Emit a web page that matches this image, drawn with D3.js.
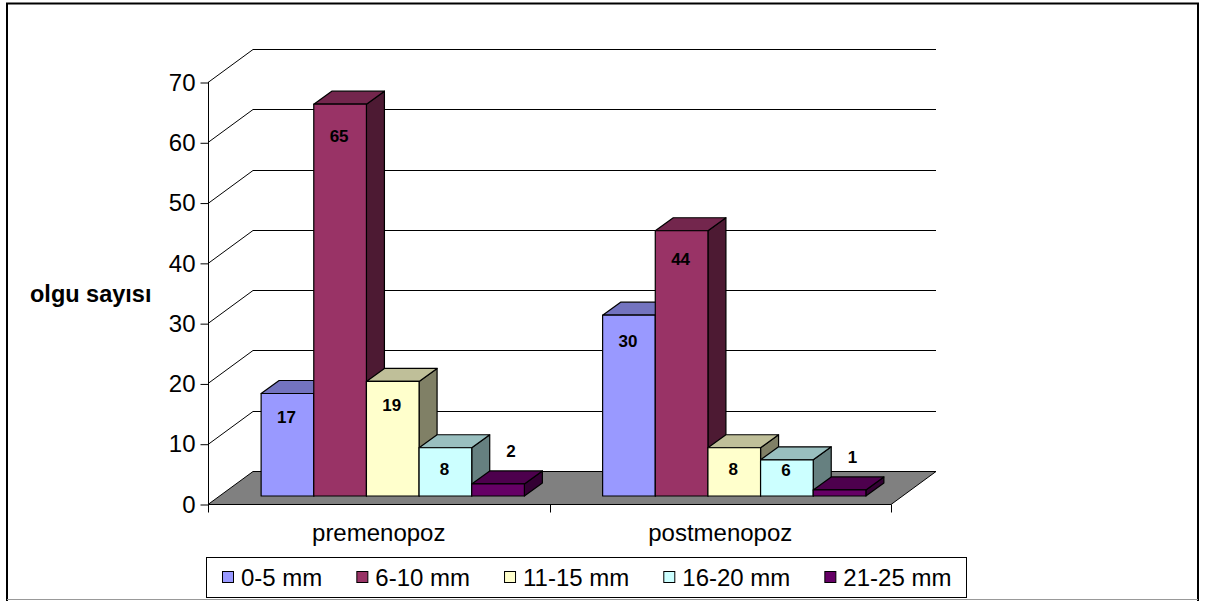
<!DOCTYPE html>
<html>
<head>
<meta charset="utf-8">
<script src="https://cdn.jsdelivr.net/npm/d3@7"></script>
<style>
  body { margin: 0; background: #fff; }
  svg { display: block; font-family: Arial, "Liberation Sans", sans-serif; }
</style>
</head>
<body>
<svg id="chart" width="1213" height="601"></svg>
<script>
// ---- data ----
const categories = ["premenopoz", "postmenopoz"];
const seriesNames = ["0-5 mm", "6-10 mm", "11-15 mm", "16-20 mm", "21-25 mm"];
const premenopoz = [17, 65, 19, 8, 2];
const postmenopoz = [30, 44, 8, 6, 1];
const yTicks = [0, 10, 20, 30, 40, 50, 60, 70];
const seriesColors = ["#9999FF", "#993366", "#FFFFCC", "#CCFFFF", "#660066"];
const yTitle = "olgu sayısı";

const valuesByCategory = { premenopoz, postmenopoz };

// ---- geometry ----
const svg = d3.select("#chart");
const plot = { left: 208, right: 891, floor: 504 };
const wall = { dx: 45, dy: -33 };      // depth of the back wall / floor
const barPlane = { dx: 14, dy: -8 };   // where bar fronts stand on the floor
const barDepth = { dx: 18, dy: -13 };  // thickness of each bar

const y = d3.scaleLinear().domain([0, 70]).range([plot.floor, 82]);
const x0 = d3.scaleBand().domain(categories).range([plot.left, plot.right]);
const x1 = d3.scaleBand().domain(seriesNames)
  .range([0, x0.bandwidth()]).paddingInner(0).paddingOuter(0.743);

const shade = (c, f) => { const r = d3.rgb(c); return d3.rgb(r.r * f, r.g * f, r.b * f).formatHex(); };
const pts = a => a.map(p => p.join(",")).join(" ");

// ---- outer frame ----
const frame = svg.append("g");
frame.append("line").attr("x1", 7).attr("x2", 7).attr("y1", 3).attr("y2", 601).attr("stroke", "#000").attr("stroke-width", 2);
frame.append("line").attr("x1", 1198).attr("x2", 1198).attr("y1", 3).attr("y2", 601).attr("stroke", "#000").attr("stroke-width", 2);
frame.append("line").attr("x1", 6).attr("x2", 1199).attr("y1", 3.5).attr("y2", 3.5).attr("stroke", "#000").attr("stroke-width", 2);
frame.append("line").attr("x1", 7).attr("x2", 1198).attr("y1", 599.5).attr("y2", 599.5).attr("stroke", "#999").attr("stroke-width", 1);

// ---- back wall gridlines and side-wall diagonals ----
const grid = svg.append("g").attr("stroke", "#000").attr("stroke-width", 1).attr("fill", "none");
yTicks.filter(t => t > 0).forEach(t => {
  const yy = Math.round(y(t)) + 0.5;
  grid.append("line")
    .attr("x1", plot.left + wall.dx).attr("x2", plot.right + wall.dx)
    .attr("y1", yy + wall.dy).attr("y2", yy + wall.dy);
  grid.append("line")
    .attr("x1", plot.left).attr("y1", yy)
    .attr("x2", plot.left + wall.dx).attr("y2", yy + wall.dy);
});

// ---- floor ----
svg.append("polygon")
  .attr("points", pts([
    [plot.left, plot.floor + 0.5], [plot.right, plot.floor + 0.5],
    [plot.right + wall.dx, plot.floor + 0.5 + wall.dy], [plot.left + wall.dx, plot.floor + 0.5 + wall.dy]
  ]))
  .attr("fill", "#808080").attr("stroke", "#000").attr("stroke-width", 1);

// ---- value axis ----
const yAxisG = svg.append("g").attr("transform", `translate(${plot.left + 0.5},0.5)`);
yAxisG.call(d3.axisLeft(y).tickValues(yTicks).tickSize(8).tickPadding(5).tickFormat(d3.format("d")));
yAxisG.select(".domain").remove();
yAxisG.selectAll(".tick line").attr("stroke", "#000");
yAxisG.selectAll(".tick text").attr("font-size", 24).attr("font-family", "Arial, 'Liberation Sans', sans-serif").attr("fill", "#000");
svg.append("line")
  .attr("x1", plot.left + 0.5).attr("x2", plot.left + 0.5)
  .attr("y1", y(70)).attr("y2", plot.floor + 8)
  .attr("stroke", "#000");

// ---- category axis ----
const xAxisG = svg.append("g").attr("transform", `translate(0,${plot.floor + 0.5})`);
[plot.left, plot.left + x0.bandwidth(), plot.right].forEach(xx => {
  xAxisG.append("line").attr("x1", Math.round(xx) + 0.5).attr("x2", Math.round(xx) + 0.5)
    .attr("y1", 0).attr("y2", 8).attr("stroke", "#000");
});
categories.forEach(c => {
  svg.append("text")
    .attr("x", x0(c) + x0.bandwidth() / 2).attr("y", 541)
    .attr("text-anchor", "middle").attr("font-size", 24).attr("fill", "#000")
    .text(c);
});

// ---- axis title ----
svg.append("text")
  .attr("x", 30).attr("y", 302)
  .attr("font-size", 23.5).attr("font-weight", "bold").attr("fill", "#000")
  .text(yTitle);

// ---- 3D bars ----
const labelY = d3.scaleLinear().domain([0, 70]).range([516.25, 106.75]);
const bars = svg.append("g");
const labels = svg.append("g");
const baseY = plot.floor + barPlane.dy;

categories.forEach(c => {
  const vals = valuesByCategory[c];
  seriesNames.forEach((s, i) => {
    const v = vals[i];
    const col = seriesColors[i];
    const xl = x0(c) + barPlane.dx + x1(s);
    const w = x1.bandwidth();
    const top = y(v) + barPlane.dy;
    const g = bars.append("g").attr("stroke", "#000").attr("stroke-width", 1.2).attr("stroke-linejoin", "round");
    g.append("polygon").attr("fill", shade(col, 0.5)).attr("points", pts([
      [xl + w, top], [xl + w + barDepth.dx, top + barDepth.dy],
      [xl + w + barDepth.dx, baseY + barDepth.dy], [xl + w, baseY]
    ]));
    g.append("polygon").attr("fill", shade(col, 0.75)).attr("points", pts([
      [xl, top], [xl + w, top], [xl + w + barDepth.dx, top + barDepth.dy], [xl + barDepth.dx, top + barDepth.dy]
    ]));
    g.append("rect").attr("x", xl).attr("y", top).attr("width", w).attr("height", baseY - top).attr("fill", col);

    // value label: inside the bar, or above it when the bar is too short
    let lx, ly;
    if (baseY - top < 20) {
      lx = xl + w / 2 + 13;
      ly = top + barDepth.dy - 20;
    } else {
      lx = xl + w / 2 - 1;
      ly = Math.min(labelY(v), 470);
    }
    labels.append("text")
      .attr("x", lx).attr("y", ly).attr("dy", "0.35em")
      .attr("text-anchor", "middle").attr("font-size", 17).attr("font-weight", "bold").attr("fill", "#000")
      .text(v);
  });
});

// ---- legend ----
const legend = svg.append("g");
legend.append("rect")
  .attr("x", 206.5).attr("y", 557.5).attr("width", 760).attr("height", 40)
  .attr("fill", "#fff").attr("stroke", "#000").attr("stroke-width", 1);
let lxPos = 222;
seriesNames.forEach((s, i) => {
  legend.append("rect")
    .attr("x", lxPos + 0.5).attr("y", 571.5).attr("width", 11).attr("height", 11)
    .attr("fill", seriesColors[i]).attr("stroke", "#000").attr("stroke-width", 1);
  const t = legend.append("text")
    .attr("x", lxPos + 19).attr("y", 586)
    .attr("font-size", 24).attr("fill", "#000")
    .text(s);
  lxPos += 19 + t.node().getComputedTextLength() + 34;
});
</script>
</body>
</html>
